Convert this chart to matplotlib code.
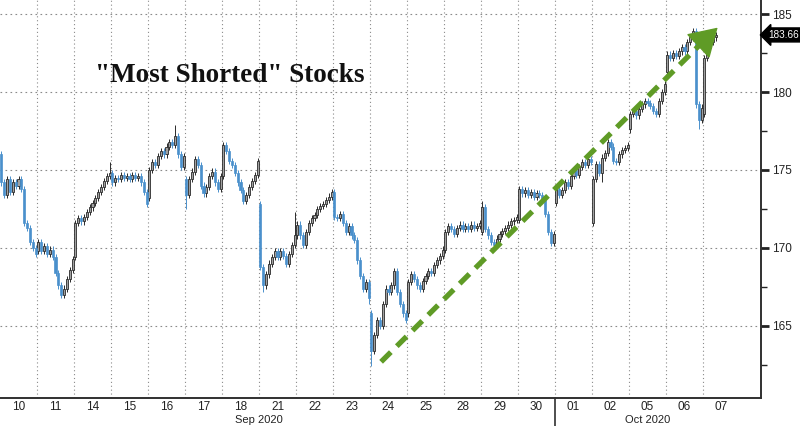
import numpy as np
import matplotlib
matplotlib.use('Agg')
import matplotlib.pyplot as plt
import matplotlib.transforms as mtransforms

# Trading days shown (13 half-hour bars per day, the last day is partial)
day_labels = ['10', '11', '14', '15', '16', '17', '18', '21', '22', '23',
              '24', '25', '28', '29', '30', '01', '02', '05', '06', '07']
month_labels = ['Sep 2020', 'Oct 2020']
month_centers = [7.0, 17.5]     # in day units
month_split = 15                # first day of October

# Opening price of each day (first bar)
day_open = [176.0, 169.8, 169.4, 174.8, 173.2, 174.4, 174.6, 172.8, 170.8, 173.6,
            165.8, 165.8, 169.9, 171.0, 171.8, 172.9, 171.6, 177.6, 181.3, 178.6]

# Bar closes per day
closes = [
    [174.2, 173.4, 174.4, 173.6, 174.2, 174.0, 174.4, 173.8, 171.6, 171.3, 170.4, 170.0, 169.6],
    [170.4, 169.8, 170.1, 169.6, 169.9, 169.4, 168.4, 167.6, 167.0, 167.4, 168.0, 168.6, 169.3],
    [171.6, 171.9, 171.7, 172.0, 172.3, 172.6, 172.9, 173.2, 173.6, 173.9, 174.3, 174.6, 174.8],
    [174.2, 174.5, 174.4, 174.7, 174.5, 174.6, 174.4, 174.7, 174.5, 174.6, 174.2, 173.6, 172.8],
    [175.0, 175.5, 175.3, 175.9, 176.2, 176.0, 176.5, 176.8, 176.6, 177.2, 176.0, 175.2, 175.9],
    [173.4, 174.4, 174.9, 175.7, 175.3, 174.0, 173.5, 173.9, 174.6, 174.9, 174.2, 173.8, 174.6],
    [176.6, 176.2, 175.6, 175.3, 174.8, 174.2, 173.7, 173.0, 173.4, 173.9, 174.3, 174.7, 175.6],
    [168.8, 167.6, 168.3, 169.0, 169.4, 169.8, 169.4, 169.8, 169.5, 169.0, 169.6, 170.2, 170.8],
    [171.5, 170.8, 170.2, 171.0, 171.6, 171.9, 172.1, 172.5, 172.7, 172.8, 173.1, 173.3, 173.6],
    [172.0, 171.9, 172.2, 171.6, 171.0, 171.4, 170.8, 170.5, 169.2, 168.2, 167.4, 167.8, 166.8],
    [163.4, 164.4, 165.4, 165.0, 166.4, 167.4, 167.2, 167.6, 168.5, 167.2, 166.4, 165.8, 165.4],
    [167.8, 168.3, 168.0, 167.6, 167.4, 167.9, 168.2, 168.5, 168.4, 168.9, 169.2, 169.5, 169.9],
    [171.0, 171.4, 171.2, 170.9, 171.3, 171.5, 171.2, 171.4, 171.2, 171.5, 171.3, 171.4, 171.6],
    [172.6, 171.2, 170.8, 170.4, 170.2, 170.6, 170.9, 171.1, 171.3, 171.5, 171.7, 171.8, 172.0],
    [173.8, 173.5, 173.7, 173.4, 173.6, 173.3, 173.5, 173.4, 173.1, 172.2, 171.0, 170.3, 170.9],
    [173.8, 173.4, 173.7, 174.2, 174.0, 174.6, 175.0, 174.7, 175.2, 175.5, 175.3, 175.7, 175.5],
    [174.4, 175.4, 174.8, 175.8, 176.1, 176.8, 176.5, 175.6, 175.5, 176.0, 176.3, 176.4, 176.6],
    [178.6, 178.8, 178.5, 178.9, 179.2, 179.4, 179.3, 179.1, 178.8, 178.6, 179.4, 180.0, 180.5],
    [182.4, 182.2, 182.5, 182.3, 182.6, 182.9, 182.6, 183.2, 183.5, 183.9, 179.2, 178.2, 179.0],
    [182.2, 182.8, 183.2, 183.5, 183.66],
]

# Notable long wicks: (day, bar) -> price
long_lows = {(9, 12): 166.4, (10, 0): 162.4, (18, 11): 177.6, (16, 3): 174.2,
             (5, 0): 172.5, (1, 8): 166.8, (7, 1): 167.2}
long_highs = {(4, 9): 177.9, (7, 12): 172.3, (13, 0): 173.0, (18, 9): 184.1,
              (2, 12): 175.5}

last_price = 183.66
title = '"Most Shorted" Stocks'

bars_per_day = 13
up_face = '#a0a0a0'
up_edge = '#2a2a2a'
down_col = '#4a90cc'

fig = plt.figure(figsize=(8, 4.26), dpi=100)
ax = fig.add_axes([0, 28 / 426, 761 / 800, 398 / 426])

xs, o_, c_, h_, l_ = [], [], [], [], []
prev = None
for d, day in enumerate(closes):
    for j, c in enumerate(day):
        o = day_open[d] if j == 0 else prev
        hi = long_highs.get((d, j), max(o, c) + 0.2)
        lo = long_lows.get((d, j), min(o, c) - 0.2)
        xs.append(d + (j + 0.5) / bars_per_day)
        o_.append(o); c_.append(c); h_.append(hi); l_.append(lo)
        prev = c

xs = np.array(xs); o_ = np.array(o_); c_ = np.array(c_)
h_ = np.array(h_); l_ = np.array(l_)
up = c_ >= o_
w = 0.72 / bars_per_day

ax.vlines(xs[up], l_[up], h_[up], color=up_edge, lw=0.7, zorder=3)
ax.vlines(xs[~up], l_[~up], h_[~up], color=down_col, lw=0.7, zorder=3)
body_lo = np.minimum(o_, c_)
body_h = np.maximum(np.abs(c_ - o_), 0.1)
ax.bar(xs[up], body_h[up], bottom=body_lo[up], width=w, color=up_face,
       edgecolor=up_edge, lw=0.6, zorder=4)
ax.bar(xs[~up], body_h[~up], bottom=body_lo[~up], width=w, color=down_col,
       edgecolor=down_col, lw=0.5, zorder=4)

n_days = len(day_labels)
ax.set_xlim(0, 761 / 37)
ax.set_ylim(160.38, 185.9)

# grid
for k in range(1, n_days):
    ax.axvline(k, color='#8a8a8a', lw=0.8, ls=(0, (1, 2.5)), zorder=1)
for yv in [165, 170, 175, 180, 185]:
    ax.axhline(yv, color='#8a8a8a', lw=0.8, ls=(0, (1.5, 3)), zorder=1)

# axes styling
for s in ['left', 'top']:
    ax.spines[s].set_visible(False)
for s in ['bottom', 'right']:
    ax.spines[s].set_color('#303030')
    ax.spines[s].set_linewidth(1.4)

ax.yaxis.tick_right()
ax.set_yticks([165, 170, 175, 180, 185])
ax.set_yticks([162.5, 167.5, 172.5, 177.5, 182.5], minor=True)
ax.tick_params(axis='y', which='major', length=6, width=2, colors='#222222',
               labelsize=8.5, pad=2)
ax.tick_params(axis='y', which='minor', length=4, width=1, colors='#222222')
for t in ax.get_yticklabels():
    t.set_fontfamily('Liberation Sans')

ax.set_xticks(np.arange(n_days) + 0.5)
ax.set_xticklabels(day_labels, fontsize=8.5, color='#222222', fontfamily='Liberation Sans')
ax.tick_params(axis='x', length=0, pad=2.5)

trans_x = mtransforms.blended_transform_factory(ax.transData, ax.transAxes)
for lab, cx in zip(month_labels, month_centers):
    ax.text(cx, -0.042, lab, transform=trans_x, ha='center', va='top',
            fontsize=8, color='#222222', fontfamily='Liberation Sans')
ax.plot([month_split, month_split], [0, -0.08], transform=trans_x, color='#303030',
        lw=1.2, clip_on=False)

# last price tag
trans_y = mtransforms.blended_transform_factory(ax.transAxes, ax.transData)
ax.text(1.009, last_price, f'{last_price:.2f}', transform=trans_y, ha='left', va='center',
        fontsize=7.2, color='white', fontfamily='Liberation Sans',
        bbox=dict(boxstyle='larrow,pad=0.2', fc='black', ec='black'))

# title
ax.text(0.302, 0.81, title, transform=ax.transAxes, ha='center', va='center',
        fontsize=19.5, fontweight='bold', fontfamily='Liberation Serif', color='#111111')

# trend arrow
green = '#5f9b26'
start = (10.3, 162.7)
mid = (19.05, 183.35)
tip = (19.45, 184.25)
ax.plot([start[0], mid[0]], [start[1], mid[1]], color=green, lw=3.8,
        ls=(0, (2.6, 1.6)), solid_capstyle='butt', zorder=6)
ax.annotate('', xy=tip, xytext=mid,
            arrowprops=dict(arrowstyle='-|>,head_length=0.9,head_width=0.55',
                            color=green, lw=1, mutation_scale=20), zorder=7)

fig.savefig('out.png', dpi=100)
